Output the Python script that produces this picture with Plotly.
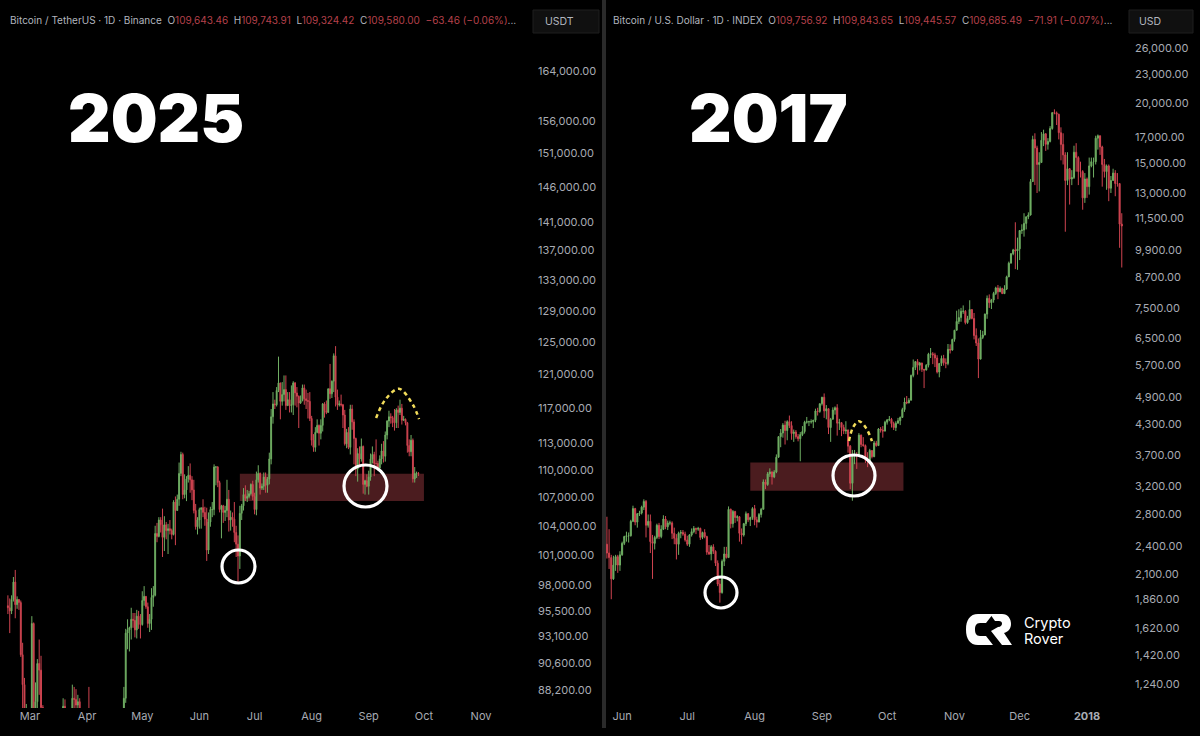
import plotly.graph_objects as go
import pandas as pd
import math

# ---------- 2025 panel: BTC/USDT daily, thousands of USD, from 2025-02-17 ----------
start_2025 = "2025-02-17"
opens_2025 = [96.0,95.8,95.5,96.6,98.3,96.1,96.6,96.3,91.4,88.7,84.3,84.7,
84.3,86.0,94.3,86.1,87.2,90.6,90.0,86.7,86.2,80.7,78.6,82.9,83.7,81.1,83.9,84.3,82.6,84.0,83.7,86.8,84.2,84.0,83.8,86.1,87.5,87.4,86.9,87.2,84.4,82.6,82.4,
82.5,85.2,82.5,83.1,83.9,83.5,78.4,79.1,76.3,82.6,79.6,83.4,85.3,83.7,84.5,83.6,84.0,84.9,84.4,85.0,85.2,87.5,93.4,93.7,93.9,94.7,94.6,93.7,95.0,94.2,
94.2,96.5,96.9,95.9,94.3,94.7,96.8,97.0,103.2,102.9,104.6,104.1,102.8,104.1,103.5,103.7,103.5,103.1,106.5,105.6,106.8,109.6,111.7,107.3,107.8,109.0,109.4,108.9,107.8,105.6,103.9,
104.6,105.7,105.9,105.4,104.7,101.5,104.4,105.7,105.7,110.3,110.3,108.6,105.7,106.1,105.4,105.6,106.8,104.6,104.9,104.7,103.3,102.1,100.9,105.3,106.1,107.3,106.9,107.1,107.4,108.4,
107.1,105.7,108.9,109.6,108.0,108.2,109.2,108.3,109.0,111.2,116.0,117.5,117.4,119.1,120.0,117.8,118.6,119.2,117.3,118.0,117.3,117.4,120.0,118.8,118.4,117.6,117.9,119.4,118.1,117.9,117.8,
115.8,113.3,112.5,114.2,115.0,114.1,115.0,117.5,116.7,116.5,119.3,118.7,120.2,123.3,118.3,117.4,117.5,117.4,116.2,112.9,114.2,112.5,116.9,115.4,113.5,110.1,111.8,111.2,112.6,108.4,108.8,
108.2,109.2,111.2,111.7,110.7,110.7,110.2,111.2,112.1,111.5,113.9,115.5,116.0,115.9,115.3,115.3,116.8,116.5,117.0,115.6,115.7,115.3,112.7,112.0,113.3,109.0,109.6,109.64]
highs_2025 = [97.0,96.7,97.0,98.8,99.5,96.9,96.6,96.5,92.5,89.3,87.0,85.1,
86.5,95.0,94.4,88.9,91.0,92.8,91.3,86.9,86.4,84.0,83.6,84.4,84.2,85.3,84.7,85.1,84.7,84.0,87.5,87.4,84.9,84.5,86.2,88.7,88.5,88.3,87.8,87.5,84.6,83.5,83.9,
85.5,88.5,83.9,84.7,84.2,83.8,81.2,80.8,83.5,82.7,84.2,85.9,86.1,85.8,86.5,85.5,85.5,85.1,85.7,85.3,88.5,93.8,94.7,94.0,95.8,95.3,95.3,95.6,95.5,95.2,
97.4,97.9,96.9,96.3,95.2,97.7,97.9,104.0,104.3,104.9,104.9,105.8,105.0,104.4,104.2,104.6,103.7,106.7,107.1,107.3,110.8,112.0,111.9,109.5,109.3,110.4,110.7,109.3,108.9,106.3,104.9,
105.9,105.9,106.8,106.0,105.9,105.4,106.0,106.5,110.6,110.4,110.4,108.8,106.2,106.2,106.1,108.9,107.8,105.6,105.4,106.5,104.0,103.0,106.1,106.3,108.0,108.3,107.8,107.7,108.5,108.8,
107.5,109.8,110.5,109.7,108.5,109.7,109.7,109.2,111.9,116.9,118.9,118.0,119.5,123.2,119.9,120.1,120.9,120.9,118.9,118.9,119.7,120.2,120.1,119.5,118.5,118.5,119.8,119.8,119.2,118.8,118.9,
116.1,114.0,114.8,115.7,115.1,115.7,117.6,117.7,117.9,119.3,122.3,120.3,123.6,124.5,119.2,117.9,118.6,117.5,116.8,114.6,114.8,117.4,117.4,115.7,113.6,112.4,112.6,113.5,112.7,108.9,109.5,
109.9,111.8,112.6,112.0,113.4,111.0,111.6,112.9,113.2,114.3,115.6,116.7,116.4,116.1,116.9,117.0,117.3,118.0,117.5,116.1,115.8,115.4,113.4,113.9,113.5,110.3,109.8,109.74]
lows_2025 = [95.2,93.4,95.2,96.4,94.8,95.7,95.6,91.2,86.0,82.3,82.8,78.2,
83.8,85.1,85.1,81.5,86.3,87.8,84.7,85.3,80.0,77.4,76.6,79.9,79.9,80.8,83.7,81.9,82.4,81.1,82.9,83.6,83.2,83.7,83.8,85.5,86.3,85.9,85.8,83.5,81.6,81.6,81.3,
82.4,82.3,81.2,81.7,82.4,77.2,74.5,76.2,74.6,78.4,78.9,82.8,83.0,83.7,83.6,83.1,83.8,84.1,84.3,83.9,85.1,87.1,91.9,91.7,92.8,93.9,93.0,92.9,93.8,92.9,
94.1,96.0,95.7,93.9,93.5,93.7,95.9,96.9,102.3,102.8,103.3,100.8,101.4,102.6,101.1,103.1,102.6,103.0,102.0,105.6,106.1,109.3,106.8,106.9,106.6,108.6,107.5,106.7,105.3,103.6,103.1,
103.7,103.7,104.9,104.0,100.4,101.1,103.9,104.9,105.1,108.3,108.1,105.4,102.7,104.3,104.5,104.9,103.4,103.5,103.9,102.3,100.8,98.2,99.6,104.6,105.6,106.6,106.5,106.9,107.2,106.7,
105.2,105.1,108.6,107.3,107.8,107.8,107.5,107.5,108.4,110.6,115.2,116.9,117.2,118.9,115.7,117.3,117.8,116.8,117.3,116.5,116.5,116.2,117.3,117.1,114.7,117.5,117.8,117.4,116.9,115.8,115.5,
112.7,112.0,112.0,114.1,112.7,113.4,114.3,115.9,116.3,116.5,118.1,118.2,118.9,117.2,116.8,117.2,117.2,114.7,112.7,112.4,112.3,111.7,114.5,110.6,109.3,108.7,110.4,110.9,107.4,107.3,108.1,
107.3,108.8,110.7,109.3,110.2,109.9,110.0,110.6,110.8,110.9,113.4,114.8,115.2,114.8,114.4,114.7,114.7,116.2,115.1,115.5,115.0,111.9,111.5,111.5,108.6,108.6,109.1,109.32]
closes_2025 = [95.8,95.5,96.6,98.3,96.1,96.6,96.3,91.4,88.7,84.3,84.7,84.3,
86.0,94.3,86.1,87.2,90.6,90.0,86.7,86.2,80.7,78.6,82.9,83.7,81.1,83.9,84.3,82.6,84.0,83.7,86.8,84.2,84.0,83.8,86.1,87.5,87.4,86.9,87.2,84.4,82.6,82.4,82.5,
85.2,82.5,83.1,83.9,83.5,78.4,79.1,76.3,82.6,79.6,83.4,85.3,83.7,84.5,83.6,84.0,84.9,84.4,85.0,85.2,87.5,93.4,93.7,93.9,94.7,94.6,93.7,95.0,94.2,94.2,
96.5,96.9,95.9,94.3,94.7,96.8,97.0,103.2,102.9,104.6,104.1,102.8,104.1,103.5,103.7,103.5,103.1,106.5,105.6,106.8,109.6,111.7,107.3,107.8,109.0,109.4,108.9,107.8,105.6,103.9,104.6,
105.7,105.9,105.4,104.7,101.5,104.4,105.7,105.7,110.3,110.3,108.6,105.7,106.1,105.4,105.6,106.8,104.6,104.9,104.7,103.3,102.1,100.9,105.3,106.1,107.3,106.9,107.1,107.4,108.4,107.1,
105.7,108.9,109.6,108.0,108.2,109.2,108.3,109.0,111.2,116.0,117.5,117.4,119.1,120.0,117.8,118.6,119.2,117.3,118.0,117.3,117.4,120.0,118.8,118.4,117.6,117.9,119.4,118.1,117.9,117.8,115.8,
113.3,112.5,114.2,115.0,114.1,115.0,117.5,116.7,116.5,119.3,118.7,120.2,123.3,118.3,117.4,117.5,117.4,116.2,112.9,114.2,112.5,116.9,115.4,113.5,110.1,111.8,111.2,112.6,108.4,108.8,108.2,
109.2,111.2,111.7,110.7,110.7,110.2,111.2,112.1,111.5,113.9,115.5,116.0,115.9,115.3,115.3,116.8,116.5,117.0,115.6,115.7,115.3,112.7,112.0,113.3,109.0,109.6,109.64,109.58]

# ---------- 2017 panel: BTC/USD daily, USD, from 2017-05-25 ----------
start_2017 = "2017-05-25"
opens_2017 = [2420,2320,2270,2050,2190,2280,2190,
2300,2430,2510,2520,2520,2700,2870,2690,2800,2810,2890,2970,2650,2700,2450,2430,2500,2650,2510,2600,2730,2630,2680,2680,2550,2490,2420,2550,2560,2540,
2470,2420,2530,2570,2610,2600,2610,2500,2560,2510,2330,2310,2390,2340,2210,2000,1920,2230,2310,2270,2860,2670,2830,2750,2760,2550,2530,2670,2800,2720,2750,
2870,2720,2690,2790,2860,3260,3220,3390,3420,3340,3420,3670,4050,4120,4280,4170,4350,4270,4110,4140,4050,4010,4090,4150,4340,4350,4350,4350,4380,4580,4570,
4740,4890,4580,4630,4230,4400,4600,4650,4320,4330,4230,4160,4180,3870,3240,3700,3710,3690,4080,3900,3880,3620,3610,3790,3680,3930,3880,4200,4180,4160,
4340,4390,4400,4310,4230,4320,4370,4440,4610,4780,4760,4820,5430,5640,5800,5700,5760,5590,5570,5700,6010,6020,5990,5900,5520,5750,5890,5770,5750,6150,6130,
6450,6740,7030,7160,7380,7380,6990,7130,7440,7130,6570,6340,5870,6510,6590,7280,7850,7690,7790,8040,8250,8100,8230,8030,8210,8700,9290,9720,9900,9850,
9950,10860,10890,11240,11600,11700,13730,16800,16130,14900,15040,16730,17260,16410,16640,17700,19100,19080,18950,17350,16400,15600,13800,14600,13900,14000,15800,15400,14400,14400,12700,
13900,13400,14800,15100,15100,16900,17100,16200,14900,14400,14800,13300,13800,14300,13600,13600,11200]
highs_2017 = [2760,2600,2300,2290,2300,2300,2340,
2450,2520,2570,2560,2720,2910,2880,2810,2840,2910,3000,2990,2790,2790,2530,2520,2670,2680,2650,2780,2770,2710,2710,2700,2620,2540,2570,2590,2590,2570,
2520,2540,2610,2640,2620,2630,2620,2570,2600,2520,2410,2410,2420,2350,2240,2040,2250,2390,2390,2900,2870,2850,2840,2780,2770,2610,2680,2830,2810,2760,2890,
2920,2760,2810,2880,3300,3300,3420,3480,3430,3450,3720,4060,4200,4320,4370,4380,4480,4360,4190,4180,4100,4140,4260,4370,4450,4370,4400,4390,4630,4650,4750,
4900,4980,4710,4630,4430,4660,4680,4730,4410,4340,4290,4360,4190,3890,3800,3800,3760,4120,4090,4040,3900,3760,3820,3790,3970,3970,4220,4240,4260,4370,
4400,4470,4430,4350,4360,4430,4460,4650,4880,4920,4870,5450,5860,5800,5870,5790,5770,5600,5730,6050,6190,6070,6050,5980,5760,5970,5990,5890,6310,6300,6470,
6750,7400,7450,7500,7590,7420,7220,7780,7450,7320,6800,6480,6750,6720,7300,7960,8000,7830,8100,8300,8370,8310,8260,8360,8750,9360,9750,9950,11300,10500,
10880,11190,11800,11610,11850,13900,17100,17300,16300,15800,17400,17600,17300,16900,17900,19100,19400,19200,19000,17800,17300,15800,15800,14650,14500,16300,16500,15500,15100,14500,14300,
14000,15400,15400,15400,17100,17200,17100,16300,15300,14900,14900,14100,14600,14500,14300,13600,11800]
lows_2017 = [2260,2150,1860,2040,2130,2110,2130,
2290,2410,2450,2440,2510,2690,2650,2620,2770,2790,2850,2500,2620,2320,2050,2360,2480,2480,2490,2590,2600,2590,2650,2480,2420,2250,2300,2490,2520,2450,
2400,2390,2510,2550,2540,2580,2470,2480,2490,2300,2300,2240,2310,2180,1980,1830,1910,2180,2260,2270,2610,2620,2680,2700,2450,2420,2510,2640,2690,2640,2720,
2650,2620,2690,2750,2860,3150,3200,3340,3220,3320,3400,3660,3850,4030,3900,3980,4220,3990,3950,4010,3960,3600,4060,4110,4310,4260,4310,4220,4340,4480,4540,
4700,4430,4400,4100,3950,4400,4500,4070,4180,4060,4100,4100,3750,3150,2980,3550,3470,3690,3850,3860,3570,3500,3580,3650,3670,3860,3880,4130,4030,4150,
4290,4360,4230,4180,4160,4310,4280,4430,4560,4730,4750,4820,5380,5570,5450,5560,5520,5110,5560,5640,5900,5730,5650,5480,5380,5680,5690,5620,5700,6030,6110,
6380,6730,6940,7020,7290,6930,6950,7080,7100,6450,6250,5360,5860,6460,6580,7120,7500,7460,7690,7980,7820,8090,8030,8020,8170,8700,9290,9650,9030,9000,
9430,10690,10550,10920,11470,11670,13700,13500,13000,13100,15030,16270,15900,16000,16560,17600,18950,18000,16800,15200,14900,10800,13500,12300,13500,13900,14400,13500,14000,12000,12400,
12700,12900,14700,14000,14900,16000,15600,13400,14000,13200,12500,13000,13800,12800,13400,10000,9100]
closes_2017 = [2320,2270,2050,2190,2280,2190,2300,
2430,2510,2520,2520,2700,2870,2690,2800,2810,2890,2970,2650,2700,2450,2430,2500,2650,2510,2600,2730,2630,2680,2680,2550,2490,2420,2550,2560,2540,2470,
2420,2530,2570,2610,2600,2610,2500,2560,2510,2330,2310,2390,2340,2210,2000,1920,2230,2310,2270,2860,2670,2830,2750,2760,2550,2530,2670,2800,2720,2750,2870,
2720,2690,2790,2860,3260,3220,3390,3420,3340,3420,3670,4050,4120,4280,4170,4350,4270,4110,4140,4050,4010,4090,4150,4340,4350,4350,4350,4380,4580,4570,4740,
4890,4580,4630,4230,4400,4600,4650,4320,4330,4230,4160,4180,3870,3240,3700,3710,3690,4080,3900,3880,3620,3610,3790,3680,3930,3880,4200,4180,4160,4340,
4390,4400,4310,4230,4320,4370,4440,4610,4780,4760,4820,5430,5640,5800,5700,5760,5590,5570,5700,6010,6020,5990,5900,5520,5750,5890,5770,5750,6150,6130,6450,
6740,7030,7160,7380,7380,6990,7130,7440,7130,6570,6340,5870,6510,6590,7280,7850,7690,7790,8040,8250,8100,8230,8030,8210,8700,9290,9720,9900,9850,9950,
10860,10890,11240,11600,11700,13730,16800,16130,14900,15040,16730,17260,16410,16640,17700,19100,19080,18950,17350,16400,15600,13800,14600,13900,14000,15800,15400,14400,14400,12700,13900,
13400,14800,15100,15100,16900,17100,16200,14900,14400,14800,13300,13800,14300,13600,13600,11200,11100]

# ---------- Axis labels ----------
yticks_2025 = [164000,156000,151000,146000,141000,137000,133000,129000,125000,121000,117000,113000,110000,107000,104000,101000,98000,95500,93100,90600,88200]
yticks_2017 = [26000,23000,20000,17000,15000,13000,11500,9900,8700,7500,6500,5700,4900,4300,3700,3200,2800,2400,2100,1860,1620,1420,1240]
xticks_2025 = ["2025-03-01","2025-04-01","2025-05-01","2025-06-01","2025-07-01","2025-08-01","2025-09-01","2025-10-01","2025-11-01"]
xlabels_2025 = ["Mar","Apr","May","Jun","Jul","Aug","Sep","Oct","Nov"]
xticks_2017 = ["2017-06-01","2017-07-01","2017-08-01","2017-09-01","2017-10-01","2017-11-01","2017-12-01","2018-01-01"]
xlabels_2017 = ["Jun","Jul","Aug","Sep","Oct","Nov","Dec","<b>2018</b>"]

# Yellow dashed arcs drawn over each panel (date, price)
arc_dates_2025 = ["2025-09-05","2025-09-10","2025-09-17 10:00","2025-09-25","2025-09-28 08:00"]
arc_prices_2025 = [115850,118000,119300,117400,115730]
arc_dates_2017 = ["2017-09-13 10:00","2017-09-15 08:00","2017-09-18","2017-09-21 08:00","2017-09-24"]
arc_prices_2017 = [3964,4238,4362,4218,3964]

GREEN, RED = "#6fae63", "#cf4450"
GRAY, DIM = "#b2b5be", "#a8abb3"
FONT = "Inter, Roboto, sans-serif"
W, H = 1200.0, 736.0

def fx(x): return x / W
def fy(y): return 1 - y / H

assert len(opens_2025) == len(highs_2025) == len(lows_2025) == len(closes_2025)
assert len(opens_2017) == len(highs_2017) == len(lows_2017) == len(closes_2017)
d25 = pd.date_range(start_2025, periods=len(closes_2025))
d17 = pd.date_range(start_2017, periods=len(closes_2017))

def k(v): return [a * 1000 for a in v]

fig = go.Figure()
def candles(x, o, h, l, c, xa, ya):
    fig.add_trace(go.Candlestick(
        x=x, open=o, high=h, low=l, close=c, xaxis=xa, yaxis=ya, showlegend=False,
        increasing=dict(line=dict(color=GREEN, width=1), fillcolor=GREEN),
        decreasing=dict(line=dict(color=RED, width=1), fillcolor=RED),
        whiskerwidth=0))

candles(d25, k(opens_2025), k(highs_2025), k(lows_2025), k(closes_2025), "x", "y")
candles(d17, opens_2017, highs_2017, lows_2017, closes_2017, "x2", "y2")

arc = dict(mode="lines", showlegend=False, hoverinfo="skip",
           line=dict(color="#f2dc5a", width=2.5, dash="4px,3.5px", shape="spline"))
fig.add_trace(go.Scatter(x=arc_dates_2025, y=arc_prices_2025, xaxis="x", yaxis="y", **arc))
fig.add_trace(go.Scatter(x=arc_dates_2017, y=arc_prices_2017, xaxis="x2", yaxis="y2", **arc))

shapes = []
# support bands
shapes.append(dict(type="rect", xref="x", yref="y", x0="2025-06-23", x1="2025-10-01", y0=106600, y1=109560,
                   fillcolor="#4b1c1f", line_width=0, layer="below"))
shapes.append(dict(type="rect", xref="x2", yref="y2", x0="2017-07-30", x1="2017-10-08 12:00", y0=3124, y1=3578,
                   fillcolor="#4b1c1f", line_width=0, layer="below"))
# white rings
for x0, x1, y0, y1 in [(222, 255, 550, 583), (344, 387, 465, 507), (705, 737, 577, 608), (833, 875, 455, 496)]:
    shapes.append(dict(type="circle", xref="paper", yref="paper", x0=fx(x0), x1=fx(x1), y0=fy(y1), y1=fy(y0),
                       line=dict(color="white", width=3.2)))
# panel separator
shapes.append(dict(type="rect", xref="paper", yref="paper", x0=fx(602), x1=fx(606), y0=fy(728), y1=1,
                   fillcolor="#2a2a2a", line_width=0))
# currency boxes
for x0, x1 in [(533, 599), (1129, 1193)]:
    shapes.append(dict(type="rect", xref="paper", yref="paper", x0=fx(x0), x1=fx(x1), y0=fy(33), y1=fy(10),
                       fillcolor="#101010", line=dict(color="#1e1e1e", width=1)))

def path(cmds):
    out = []
    for c in cmds:
        if isinstance(c, str):
            out.append(c)
        else:
            out.append(f"{fx(c[0]):.5f},{fy(c[1]):.5f}")
    return " ".join(out)

logo_c = path(["M",(993,614),"L",(978,614),"C",(970,614),(966,620),(966,629.5),"C",(966,639),(970,645),(978,645),
               "L",(993,645),"L",(986,636),"L",(980,636),"C",(976,636),(975,633),(975,629.5),"C",(975,626),(976,623),(980,623),"L",(986,623),"Z"])
logo_r = path(["M",(990,614),"L",(1002,614),"C",(1008,614),(1011,619),(1011,624),"C",(1011,629),(1008,632),(1004,633),
               "L",(1012,645),"L",(1002,645),"L",(991,631),"L",(998,627),"C",(1001,627),(1002,625),(1002,623.5),"C",(1002,622),(1001,621),(999,621),"L",(995,621),"Z"])
for p in (logo_c, logo_r):
    shapes.append(dict(type="path", xref="paper", yref="paper", path=p, fillcolor="white", line_width=0))

def note(x, y, text, size, color, anchor="left", weight=None, family=FONT):
    font = dict(size=size, color=color, family=family)
    if weight:
        font["weight"] = weight
    return dict(xref="paper", yref="paper", x=fx(x), y=fy(y), text=text, showarrow=False,
                xanchor=anchor, yanchor="middle", font=font, align="left")

def r(t):
    return f'<span style="color:#b5404b">{t}</span>'

hdr_l = ("Bitcoin / TetherUS · 1D · Binance  O" + r("109,643.46") + "  H" + r("109,743.91") + "  L" + r("109,324.42")
         + "  C" + r("109,580.00") + "  " + r("−63.46 (−0.06%)") + "...")
hdr_r = ("Bitcoin / U.S. Dollar · 1D · INDEX  O" + r("109,756.92") + "  H" + r("109,843.65") + "  L" + r("109,445.57")
         + "  C" + r("109,685.49") + "  " + r("−71.91 (−0.07%)") + "...")

annotations = [
    note(8, 20, hdr_l, 10, GRAY),
    note(611, 20, hdr_r, 10, GRAY),
    note(543, 22, "USDT", 10.5, GRAY),
    note(1137, 22, "USD", 10.5, GRAY),
    note(155.5, 118.5, "2025", 66, "white", "center", 900),
    note(768, 118.5, "2017", 66, "white", "center", 900),
    note(1022, 622.5, "Crypto", 14.5, "white"),
    note(1022, 638.5, "Rover", 14.5, "white"),
]

tickfont = dict(size=11, color=DIM, family=FONT)
fig.update_layout(
    width=1200, height=736, margin=dict(l=0, r=0, t=0, b=0),
    paper_bgcolor="black", plot_bgcolor="rgba(0,0,0,0)",
    showlegend=False, shapes=shapes, annotations=annotations,
    xaxis=dict(domain=[fx(0), fx(537)], type="date", range=["2025-02-12 17:00", "2025-12-01 10:00"],
               rangeslider=dict(visible=False), tickmode="array", tickvals=xticks_2025, ticktext=xlabels_2025,
               showgrid=False, zeroline=False, showline=False, ticks="", tickfont=tickfont, anchor="y"),
    yaxis=dict(domain=[fy(708), fy(36)], type="log", range=[math.log10(86650), math.log10(169854)],
               tickmode="array", tickvals=yticks_2025, ticktext=[f"{v:,.2f}" for v in yticks_2025],
               side="right", anchor="x", showgrid=False, zeroline=False, showline=False, ticks="", tickfont=tickfont),
    xaxis2=dict(domain=[fx(606), fx(1134)], type="date", range=["2017-05-24 14:00", "2018-01-22 15:00"],
                rangeslider=dict(visible=False), tickmode="array", tickvals=xticks_2017, ticktext=xlabels_2017,
                showgrid=False, zeroline=False, showline=False, ticks="", tickfont=tickfont, anchor="y2"),
    yaxis2=dict(domain=[fy(708), fy(36)], type="log", range=[math.log10(1105), math.log10(27560)],
                tickmode="array", tickvals=yticks_2017, ticktext=[f"{v:,.2f}" for v in yticks_2017],
                side="right", anchor="x2", showgrid=False, zeroline=False, showline=False, ticks="", tickfont=tickfont),
)

fig.write_html("out.html", config=dict(displayModeBar=False),
               post_script="document.body.style.margin='0';document.body.style.background='black';")
